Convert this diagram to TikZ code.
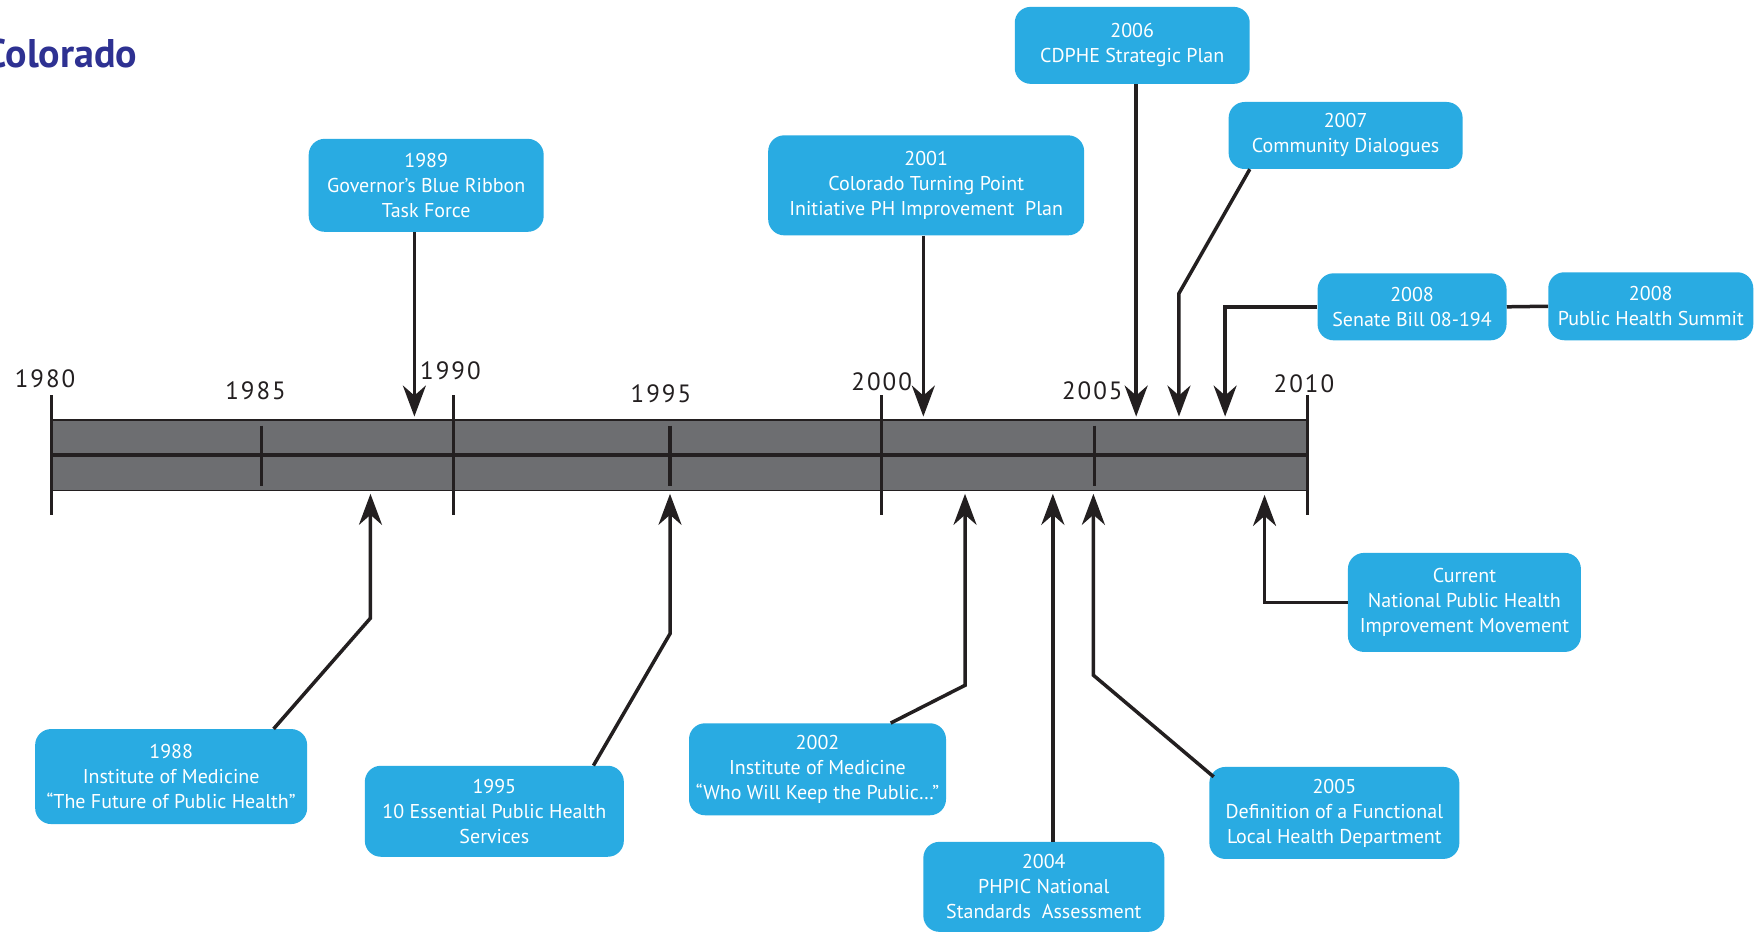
\documentclass[tikz,border=0pt]{standalone}
\usepackage{fontspec}
\setmainfont{PT Sans}
\newfontfamily\titlefont{PT Sans}
\newfontfamily\yearfont[LetterSpace=8]{PT Sans}
\usetikzlibrary{arrows.meta,calc}
\definecolor{boxblue}{HTML}{29ABE2}
\definecolor{bargray}{HTML}{6D6E71}
\definecolor{ink}{HTML}{231F20}
\definecolor{titleblue}{HTML}{2E3192}
\begin{document}
\begin{tikzpicture}[x=1.1261pt,y=-1.1198pt,
  evbox/.style={fill=boxblue, rounded corners=16pt, text=white, align=center,
    font=\fontsize{20}{25}\selectfont, inner sep=0pt},
  link/.style={draw=ink, line width=3.5pt},
  arr/.style={link, -{Stealth[length=31pt,width=23pt,inset=10pt]}},
  yearlbl/.style={font=\yearfont\fontsize{25}{25}\selectfont, text=ink, inner sep=0pt},
  longtick/.style={draw=ink, line width=3.2pt},
]
\fill[white] (0,0) rectangle (1563,835);
\useasboundingbox (0,0) rectangle (1563,835);

% title
\node[anchor=east, font=\titlefont\bfseries\fontsize{40}{40}\selectfont, text=titleblue, inner sep=0pt] (title) at (122,48) {Colorado};

% timeline bar
\fill[bargray] (46,375) rectangle (1161,438);
\draw[ink, line width=1.6pt] (46,375) rectangle (1161,438);
\draw[ink, line width=4pt] (46,406) -- (1161,406);
\foreach \x in {46,403,783,1161} \draw[longtick] (\x,353) -- (\x,460);
\foreach \x in {232,595,972} \draw[longtick] (\x,380) -- (\x,434);

% year labels
\node[yearlbl] (y1980) at (40,338) {1980};
\node[yearlbl] (y1985) at (227,349) {1985};
\node[yearlbl] (y1990) at (400,331) {1990};
\node[yearlbl] (y1995) at (587,352) {1995};
\node[yearlbl] (y2000) at (783,341) {2000};
\node[yearlbl] (y2005) at (970,349) {2005};
\node[yearlbl] (y2010) at (1158,343) {2010};

% boxes above
\node[evbox, minimum width=235pt, minimum height=93pt] (b1989) at (378.5,165.5) {1989\\Governor’s Blue Ribbon\\Task Force};
\node[evbox, minimum width=316pt, minimum height=100pt] (b2001) at (822.5,165.5) {2001\\Colorado Turning Point\\Initiative PH Improvement\ \ Plan};
\node[evbox, minimum width=235pt, minimum height=77pt] (b2006) at (1005.5,40.5) {2006\\CDPHE Strategic Plan};
\node[evbox, minimum width=234pt, minimum height=67pt] (b2007) at (1195,121) {2007\\Community Dialogues};
\node[evbox, minimum width=189pt, minimum height=67pt] (b2008s) at (1254,274) {2008\\Senate Bill 08-194};
\node[evbox, minimum width=205pt, minimum height=68pt] (b2008p) at (1466,273.5) {2008\\Public Health Summit};

% boxes below
\node[evbox, minimum width=233pt, minimum height=99pt] (bcur) at (1300.5,538) {Current\\National Public Health\\Improvement Movement};
\node[evbox, minimum width=272pt, minimum height=95pt] (b1988) at (152,693.5) {1988\\Institute of Medicine\\“The Future of Public Health”};
\node[evbox, minimum width=259pt, minimum height=91pt] (b1995) at (439,724.5) {1995\\10 Essential Public Health\\Services};
\node[evbox, minimum width=257pt, minimum height=92pt] (b2002) at (726,687) {2002\\Institute of Medicine\\“Who Will Keep the Public…”};
\node[evbox, minimum width=241pt, minimum height=90pt] (b2004) at (927,792) {2004\\PHPIC National\\Standards\ \ Assessment};
\node[evbox, minimum width=250pt, minimum height=92pt] (b2005) at (1185,726) {2005\\Definition of a Functional\\Local Health Department};

% arrow tips and elbows
\coordinate (t89) at (368,372);
\coordinate (t01) at (820,372);
\coordinate (t06) at (1009,372);
\coordinate (t07) at (1047,372);
\coordinate (e07) at (1047,262);
\coordinate (t08) at (1088,372);
\coordinate (t88) at (329,441);
\coordinate (e88) at (329,552);
\coordinate (t95) at (595,441);
\coordinate (e95) at (595,566);
\coordinate (t02) at (857,441);
\coordinate (e02) at (857,612);
\coordinate (t04) at (935,441);
\coordinate (t05) at (971,441);
\coordinate (e05) at (971,603);
\coordinate (tcur) at (1123,442);

% connectors above
\draw[arr] (b1989.south -| t89) -- (t89);
\draw[arr] (b2001.south -| t01) -- (t01);
\draw[arr] (b2006.south -| t06) -- (t06);
\draw[arr] ($(b2007.south west)+(19,0)$) -- (e07) -- (t07);
\draw[arr] (b2008s.west) -- (b2008s.west -| t08) -- (t08);
\draw[link] (b2008s.east) -- (b2008p.west);

% connectors below
\draw[arr] ($(b1988.north)+(91,0)$) -- (e88) -- (t88);
\draw[arr] ($(b1995.north)+(88,0)$) -- (e95) -- (t95);
\draw[arr] ($(b2002.north)+(65,0)$) -- (e02) -- (t02);
\draw[arr] (b2004.north -| t04) -- (t04);
\draw[arr] ($(b2005.north west)+(4,9)$) -- (e05) -- (t05);
\draw[arr] (bcur.west) -- (bcur.west -| tcur) -- (tcur);
\end{tikzpicture}
\end{document}
